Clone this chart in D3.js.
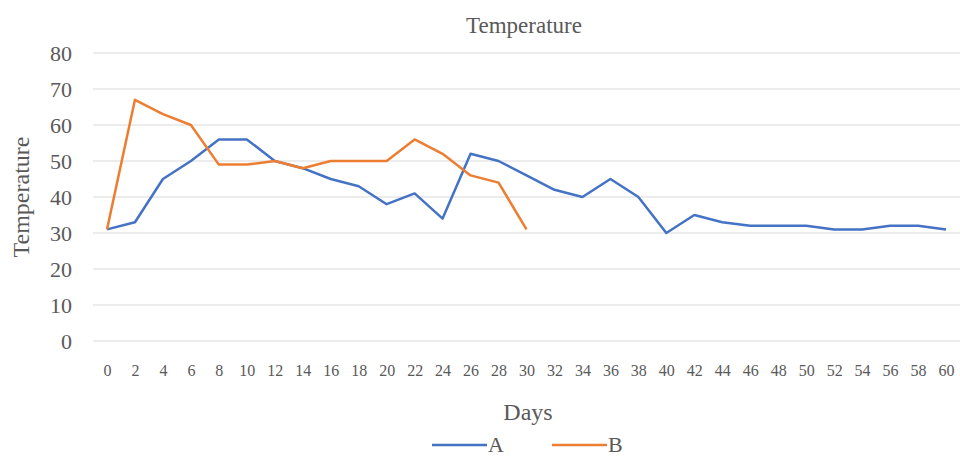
<!DOCTYPE html>
<html>
<head>
<meta charset="utf-8">
<script src="https://cdn.jsdelivr.net/npm/d3@7"></script>
<style>
  body { margin: 0; background: #fff; }
  text { font-family: "Liberation Serif", "DejaVu Serif", serif; fill: #595959; }
</style>
</head>
<body>
<script>
// data
const days = [0,2,4,6,8,10,12,14,16,18,20,22,24,26,28,30,32,34,36,38,40,42,44,46,48,50,52,54,56,58,60]
const seriesA = [31,33,45,50,56,56,50,48,45,43,38,41,34,52,50,46,42,40,45,40,30,35,33,32,32,32,31,31,32,32,31]
const seriesB = [31,67,63,60,49,49,50,48,50,50,50,56,52,46,44,31]
const yTicks = [0,10,20,30,40,50,60,70,80]
const seriesNames = ["A", "B"]
const colors = ["#4472C4", "#ED7D31"]

const width = 960
const height = 456

const svg = d3.select("body")
  .append("svg")
  .attr("width", width)
  .attr("height", height)

// scales
const x = d3.scalePoint(days, [93, 960]).padding(0.5)
const y = d3.scaleLinear([0, 80], [341, 53])

// gridlines
svg.append("g")
  .selectAll("line")
  .data(yTicks)
  .join("line")
  .attr("x1", 93)
  .attr("x2", 960)
  .attr("y1", d => y(d))
  .attr("y2", d => y(d))
  .attr("stroke", "#d9d9d9")
  .attr("stroke-width", 1)

// y axis labels
const yAxis = d3.axisLeft(y).tickValues(yTicks).tickSize(0).tickPadding(0)
svg.append("g")
  .attr("transform", "translate(72,0)")
  .call(yAxis)
  .call(g => g.select(".domain").remove())
  .call(g => g.selectAll("text")
    .attr("font-size", 22)
    .attr("font-family", "Liberation Serif")
    .attr("fill", "#595959"))

// x axis labels
const xAxis = d3.axisBottom(x).tickSize(0).tickPadding(0)
svg.append("g")
  .attr("transform", "translate(0,365)")
  .call(xAxis)
  .call(g => g.select(".domain").remove())
  .call(g => g.selectAll("text")
    .attr("font-size", 16)
    .attr("font-family", "Liberation Serif")
    .attr("fill", "#595959"))

// lines
const line = d3.line()
  .x((d, i) => x(days[i]))
  .y(d => y(d))

;[seriesA, seriesB].forEach((s, i) => {
  svg.append("path")
    .datum(s)
    .attr("d", line)
    .attr("fill", "none")
    .attr("stroke", colors[i])
    .attr("stroke-width", 2.5)
    .attr("stroke-linejoin", "round")
})

// titles
svg.append("text")
  .text("Temperature")
  .attr("x", 524)
  .attr("y", 33)
  .attr("text-anchor", "middle")
  .attr("font-size", 23)

svg.append("text")
  .text("Days")
  .attr("x", 528)
  .attr("y", 420)
  .attr("text-anchor", "middle")
  .attr("font-size", 24)

svg.append("text")
  .text("Temperature")
  .attr("transform", "translate(29,197) rotate(-90)")
  .attr("text-anchor", "middle")
  .attr("font-size", 24)

// legend
const legendX = [432, 552]
seriesNames.forEach((name, i) => {
  const g = svg.append("g").attr("transform", `translate(${legendX[i]},445)`)
  g.append("line")
    .attr("x1", 0).attr("x2", 55)
    .attr("stroke", colors[i])
    .attr("stroke-width", 2.5)
  g.append("text")
    .text(name)
    .attr("x", 56)
    .attr("y", 7)
    .attr("font-size", 22)
})
</script>
</body>
</html>
